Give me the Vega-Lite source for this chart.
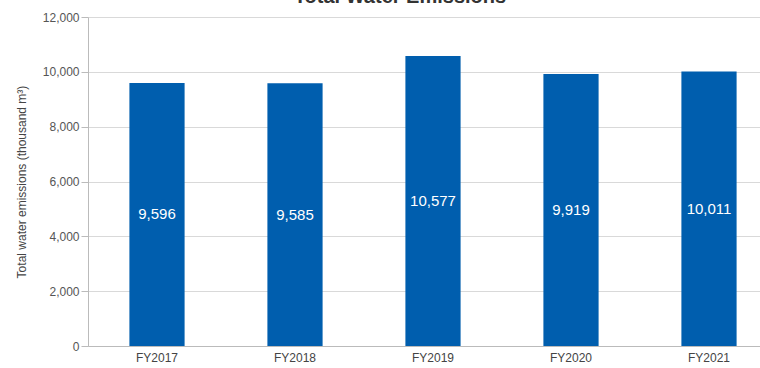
{
  "$schema": "https://vega.github.io/schema/vega-lite/v6.json",
  "autosize": {"type": "none"},
  "width": 672,
  "height": 329,
  "padding": {"left": 88, "top": 17, "right": 0, "bottom": 22},
  "background": "white",
  "title": {
    "text": "Total Water Emissions",
    "fontSize": 20,
    "fontWeight": "bold",
    "font": "Liberation Sans",
    "color": "#333333",
    "anchor": "middle",
    "dx": -24,
    "offset": 4
  },
  "config": {
    "view": {"stroke": null},
    "font": "Liberation Sans"
  },
  "data": {
    "values": [
      {"year": "FY2017", "value": 9596},
      {"year": "FY2018", "value": 9585},
      {"year": "FY2019", "value": 10577},
      {"year": "FY2020", "value": 9919},
      {"year": "FY2021", "value": 10011}
    ]
  },
  "encoding": {
    "x": {
      "field": "year",
      "type": "nominal",
      "sort": null,
      "scale": {"range": [0, 690], "paddingInner": 0.6, "paddingOuter": 0.3},
      "axis": {
        "title": null,
        "labelAngle": 0,
        "labelFontSize": 12,
        "labelColor": "#444444",
        "labelPadding": 6,
        "ticks": false,
        "domainColor": "#bbbbbb",
        "grid": false
      }
    }
  },
  "layer": [
    {
      "mark": {"type": "bar", "color": "#005eae"},
      "encoding": {
        "y": {
          "field": "value",
          "type": "quantitative",
          "scale": {"domain": [0, 12000]},
          "axis": {
            "title": "Total water emissions (thousand m³)",
            "titleFontSize": 12,
            "titleFontWeight": "normal",
            "titleColor": "#444444",
            "titlePadding": 14,
            "values": [0, 2000, 4000, 6000, 8000, 10000, 12000],
            "format": ",d",
            "labelFontSize": 12,
            "labelColor": "#555555",
            "labelPadding": 2,
            "tickSize": 7,
            "tickColor": "#bbbbbb",
            "domainColor": "#bbbbbb",
            "gridColor": "#d9d9d9"
          }
        }
      }
    },
    {
      "transform": [{"calculate": "datum.value / 2", "as": "mid"}],
      "mark": {"type": "text", "color": "white", "fontSize": 15, "baseline": "middle"},
      "encoding": {
        "y": {"field": "mid", "type": "quantitative"},
        "text": {"field": "value", "type": "quantitative", "format": ","}
      }
    }
  ]
}
